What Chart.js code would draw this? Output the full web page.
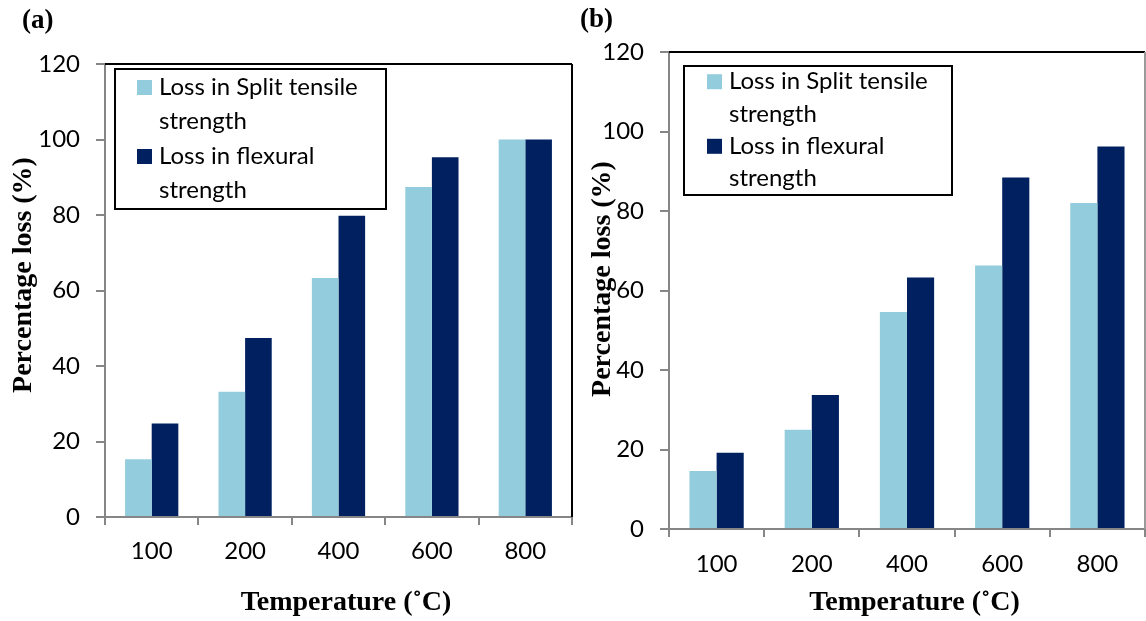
<!DOCTYPE html>
<html>
<head>
<meta charset="utf-8">
<script src="https://cdn.jsdelivr.net/npm/chart.js@4.4.1/dist/chart.umd.min.js"></script>
<style>
  body { margin: 0; background: #fff; }
  #wrap { position: relative; width: 1146px; height: 621px; }
  canvas { position: absolute; top: 0; }
</style>
</head>
<body>
<div id="wrap">
  <canvas id="chartA" width="576" height="621" style="left:0"></canvas>
  <canvas id="chartB" width="570" height="621" style="left:576px"></canvas>
</div>
<script>
// temperatures on the x axis
const temps = ["100", "200", "400", "600", "800"];
const seriesNames = ["Loss in Split tensile strength", "Loss in flexural strength"];
// panel (a)
const splitLossA = [15.3, 33.2, 63.3, 87.4, 100];
const flexLossA = [24.8, 47.4, 79.8, 95.3, 100];
// panel (b)
const splitLossB = [14.6, 25.0, 54.6, 66.3, 82.0];
const flexLossB = [19.2, 33.7, 63.3, 88.4, 96.2];
const yTicks = [0, 20, 40, 60, 80, 100, 120];
const colors = ["#93CDDD", "#002060"];

const axisGray = "#868686";
const tickFont = { family: "Lato", size: 24 };

function wrapText(ctx, text, maxW) {
  const words = text.split(" ");
  const lines = [];
  let cur = "";
  words.forEach(w => {
    const test = cur ? cur + " " + w : w;
    if (ctx.measureText(test).width > maxW && cur) {
      lines.push(cur);
      cur = w;
    } else cur = test;
  });
  lines.push(cur);
  return lines;
}

// frame, legend box, axis titles and panel tag
const panelDecor = {
  id: "panelDecor",
  afterDraw(chart, args, opts) {
    const { ctx, chartArea: a } = chart;
    ctx.save();
    ctx.lineWidth = 2;
    ctx.strokeStyle = "#000";
    ctx.beginPath();
    ctx.moveTo(a.left, a.top);
    ctx.lineTo(a.right, a.top);
    ctx.stroke();
    ctx.strokeStyle = opts.rightColor;
    ctx.beginPath();
    ctx.moveTo(a.right, a.top);
    ctx.lineTo(a.right, a.bottom);
    ctx.stroke();

    // legend
    const L = opts.legend;
    ctx.fillStyle = "#fff";
    ctx.fillRect(L.x, L.y, L.w, L.h);
    ctx.strokeStyle = "#000";
    ctx.strokeRect(L.x, L.y, L.w, L.h);
    ctx.font = "24px Lato";
    ctx.textBaseline = "middle";
    ctx.textAlign = "left";
    let y = L.y + L.first;
    chart.data.datasets.forEach(ds => {
      const lines = wrapText(ctx, ds.label, L.x + L.w - L.textX - 8);
      ctx.fillStyle = ds.backgroundColor;
      ctx.fillRect(L.swatchX, y - 7.5, 15, 15);
      ctx.fillStyle = "#000";
      lines.forEach((ln, i) => ctx.fillText(ln, L.textX, y + i * L.lineH));
      y += lines.length * L.lineH + L.gap;
    });

    // titles
    ctx.fillStyle = "#000";
    ctx.font = "bold 28px 'Liberation Serif'";
    ctx.textAlign = "center";
    ctx.fillText("Temperature (˚C)", opts.xTitle[0], opts.xTitle[1]);
    ctx.save();
    ctx.translate(opts.yTitle[0], opts.yTitle[1]);
    ctx.rotate(-Math.PI / 2);
    ctx.fillText("Percentage loss (%)", 0, 0);
    ctx.restore();
    ctx.font = "bold 27px 'Liberation Serif'";
    ctx.textAlign = "left";
    ctx.fillText(opts.tag, opts.tagAt[0], opts.tagAt[1]);
    ctx.restore();
  }
};

function makeChart(id, split, flex, cfg) {
  return new Chart(document.getElementById(id), {
    type: "bar",
    data: {
      labels: temps,
      datasets: [
        { label: seriesNames[0], data: split, backgroundColor: colors[0], borderWidth: 0 },
        { label: seriesNames[1], data: flex, backgroundColor: colors[1], borderWidth: 0 }
      ]
    },
    options: {
      responsive: false,
      animation: false,
      layout: { padding: { left: 0, top: cfg.top, right: cfg.right, bottom: 0 } },
      datasets: { bar: { categoryPercentage: 0.57, barPercentage: 1 } },
      scales: {
        x: {
          grid: { offset: true, drawOnChartArea: false, tickLength: 8, color: axisGray, lineWidth: 2 },
          border: { display: true, color: axisGray, width: 2 },
          ticks: { font: tickFont, color: "#000", padding: cfg.xPad },
          afterFit(scale) { scale.height = cfg.xAxisH; }
        },
        y: {
          min: yTicks[0],
          max: yTicks[yTicks.length - 1],
          ticks: { stepSize: yTicks[1] - yTicks[0], font: tickFont, color: "#000", padding: 16 },
          grid: { drawOnChartArea: false, tickLength: 9, color: axisGray, lineWidth: 2 },
          border: { display: true, color: axisGray, width: 2 },
          afterFit(scale) { scale.width = cfg.yAxisW; }
        }
      },
      plugins: {
        legend: { display: false },
        tooltip: { enabled: false },
        panelDecor: cfg.decor
      }
    },
    plugins: [panelDecor]
  });
}

makeChart("chartA", splitLossA, flexLossA, {
  top: 64, right: 4, xAxisH: 104, yAxisW: 105, xPad: 12,
  decor: {
    rightColor: "#000",
    legend: { x: 115, y: 69, w: 271, h: 140, swatchX: 137, textX: 159, first: 18.5, lineH: 33.5, gap: 2 },
    xTitle: [346, 603], yTitle: [24, 275], tag: "(a)", tagAt: [22, 21]
  }
});

makeChart("chartB", splitLossB, flexLossB, {
  top: 52, right: 1, xAxisH: 92, yAxisW: 93, xPad: 13,
  decor: {
    rightColor: "#9a9a9a",
    legend: { x: 108, y: 66, w: 268, h: 129, swatchX: 131, textX: 153, first: 15.7, lineH: 32.3, gap: 0 },
    xTitle: [338.5, 603], yTitle: [27, 279], tag: "(b)", tagAt: [4, 20]
  }
});
</script>
</body>
</html>
